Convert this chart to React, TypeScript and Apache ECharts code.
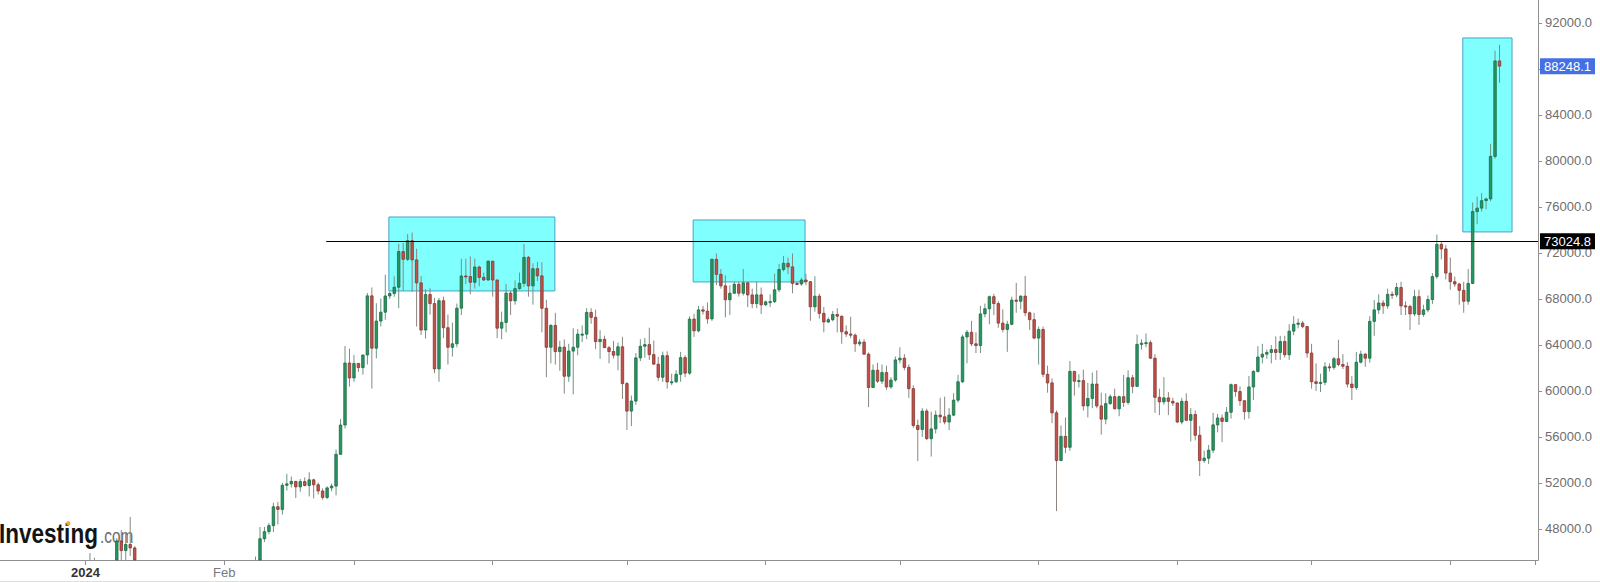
import React, { useEffect, useRef } from 'react';
import * as echarts from 'echarts';

// Daily BTC/USD candles, each row: [open, high, low, close]
const jan2024 = [
  [42280, 44180, 42180, 44180], [44180, 45900, 44150, 44950], [44950, 45500, 40800, 42850], [42850, 44750, 42620, 44180],
  [44180, 44350, 42600, 44150], [44150, 44230, 43450, 43970], [43970, 44500, 43640, 43940], [43940, 47200, 43200, 46960],
  [46960, 47900, 45250, 46120], [46120, 47700, 44300, 46650], [46650, 49040, 45650, 46350], [46350, 46500, 41500, 42800],
  [42800, 43250, 42440, 42850], [42850, 43080, 41720, 41730], [41730, 43350, 41730, 42500], [42500, 43550, 42050, 43150],
  [43150, 43200, 42200, 42750], [42750, 42920, 40700, 41300], [41300, 42100, 40300, 41650], [41650, 41880, 41450, 41680],
  [41680, 41830, 41480, 41600], [41600, 41660, 39450, 39500], [39500, 40130, 38500, 39900], [39900, 40530, 39500, 40100],
  [40100, 40300, 39550, 39950], [39950, 42200, 39800, 41800], [41800, 42200, 41400, 42100], [42100, 42800, 41600, 42000],
  [42000, 43300, 41800, 43300], [43300, 43850, 42700, 42950], [42950, 43700, 42300, 42580],
];
const feb2024 = [
  [42580, 43280, 41880, 43080], [43080, 43480, 42590, 43200], [43200, 43380, 42900, 43000], [43000, 43120, 42280, 42580],
  [42580, 43500, 42500, 42700], [42700, 43400, 42600, 43100], [43100, 44400, 42800, 44340], [44340, 45600, 44330, 45290],
  [45290, 48170, 45250, 47150], [47150, 48180, 46870, 47770], [47770, 48530, 47540, 48290], [48290, 50280, 47730, 49930],
  [49930, 50360, 48390, 49700], [49700, 52000, 49250, 51800], [51800, 52800, 51340, 51920], [51920, 52560, 51600, 52140],
  [52140, 52170, 50690, 51660], [51660, 52350, 51230, 52120], [52120, 52480, 51700, 51780], [51780, 52930, 50830, 52270],
  [52270, 52370, 50650, 51840], [51840, 52040, 50990, 51300], [51300, 51530, 50540, 50740], [50740, 51700, 50600, 51570],
  [51570, 51950, 51280, 51730], [51730, 54910, 50920, 54490], [54490, 57570, 54450, 57040], [57040, 63910, 56740, 62430],
  [62430, 63680, 60380, 61130],
];
const mar2024 = [
  [61130, 63130, 60800, 62390], [62390, 62440, 61660, 62030], [62030, 63140, 61420, 63130], [63130, 68520, 62300, 68270],
  [68270, 69000, 60200, 63720], [63720, 67630, 62830, 66080], [66080, 68030, 65600, 66850], [66850, 70110, 66190, 68260],
  [68260, 68640, 68000, 68480], [68480, 69970, 68190, 69020], [69020, 72800, 67200, 72120], [72120, 72880, 68700, 71450],
  [71450, 73650, 71300, 73070], [73070, 73780, 68620, 71400], [71400, 72370, 65600, 69400], [69400, 70000, 64870, 65300],
  [65300, 68860, 64560, 68390], [68390, 68940, 66630, 67600], [67600, 68100, 61540, 61920], [61920, 68100, 60800, 67850],
  [67850, 68200, 64600, 65500], [65500, 66650, 62300, 63800], [63800, 65950, 63000, 64100], [64100, 67600, 63800, 67200],
  [67200, 71500, 66600, 70000], [70000, 71500, 69300, 69950], [69950, 71700, 68400, 69450], [69450, 71500, 68900, 70780],
  [70780, 70900, 69100, 69880], [69880, 70300, 69560, 69650], [69650, 71350, 69580, 71290],
];
const apr2024 = [
  [71290, 71300, 68200, 69650], [69650, 69700, 64600, 65460], [65460, 66900, 64500, 65960], [65960, 69290, 65100, 68510],
  [68510, 68710, 66600, 67840], [67840, 69620, 67500, 68900], [68900, 70300, 68800, 69360], [69360, 72780, 69050, 71620],
  [71620, 71740, 68200, 69140], [69140, 71100, 67500, 70630], [70630, 71230, 69560, 70010], [70010, 71200, 65100, 67190],
  [67190, 67930, 61200, 63800], [63800, 65800, 62400, 65700], [65700, 66800, 62300, 63420], [63420, 64350, 61750, 63810],
  [63810, 64480, 59770, 61280], [61280, 64100, 60800, 63470], [63470, 65450, 59700, 63800], [63800, 65380, 63100, 64940],
  [64940, 65700, 64250, 64940], [64940, 67200, 64500, 66830], [66830, 67200, 65850, 66400], [66400, 67070, 63650, 64290],
  [64290, 65280, 62800, 64490], [64490, 64800, 63800, 63760], [63760, 63920, 62400, 63430], [63430, 64350, 62830, 63110],
  [63110, 64200, 61800, 63840], [63840, 64700, 59300, 60640],
];
const may2024 = [
  [60640, 60780, 56600, 58250], [58250, 59600, 56950, 59120], [59120, 63300, 58800, 62880], [62880, 64500, 62600, 63890],
  [63890, 64600, 62900, 64030], [64030, 65500, 62700, 63160], [63160, 64390, 62300, 62330], [62330, 62970, 60880, 61190],
  [61190, 63420, 60780, 63070], [63070, 63450, 60200, 60790], [60790, 61500, 60500, 60800], [60800, 61800, 60700, 61450],
  [61450, 63400, 60800, 62900], [62900, 63100, 61200, 61550], [61550, 66500, 61400, 66250], [66250, 66700, 64700, 65230],
  [65230, 67400, 65100, 67050], [67050, 67400, 66650, 66940], [66940, 67700, 65850, 66270], [66270, 71500, 66100, 71450],
  [71450, 71950, 69200, 70140], [70140, 70600, 68900, 69140], [69140, 70050, 66400, 67930], [67930, 69200, 66600, 68500],
  [68500, 69500, 68450, 69280], [69280, 69500, 68200, 68500], [68500, 70600, 68300, 69400], [69400, 69500, 67300, 68350],
  [68350, 68900, 67200, 67600], [67600, 69500, 67200, 68360], [68360, 69000, 66700, 67490],
];
const jun2024 = [
  [67490, 67850, 67400, 67750], [67750, 68400, 67300, 67770], [67770, 70200, 67650, 68800], [68800, 71050, 68600, 70560],
  [70560, 71750, 70400, 71100], [71100, 71600, 70150, 70790], [70790, 71950, 68500, 69350], [69350, 69500, 69200, 69300],
  [69300, 69850, 69150, 69650], [69650, 70200, 69200, 69500], [69500, 69550, 66100, 67320], [67320, 69980, 66900, 68240],
  [68240, 68450, 66300, 66750], [66750, 67300, 65100, 66000], [66000, 66400, 65900, 66200], [66200, 66950, 66050, 66650],
  [66650, 67200, 65100, 66500], [66500, 66550, 64100, 65150], [65150, 65700, 64700, 64950], [64950, 66450, 64600, 64850],
  [64850, 65000, 63400, 64100], [64100, 64500, 63900, 64250], [64250, 64500, 63150, 63200], [63200, 63350, 58600, 60300],
  [60300, 62300, 60250, 61800], [61800, 62450, 60700, 60850], [60850, 62300, 60600, 61600], [61600, 62200, 60100, 60350],
  [60350, 61200, 60200, 60950], [60950, 63000, 60800, 62700],
];
const jul2024 = [
  [62700, 63800, 62400, 62850], [62850, 63200, 61800, 62050], [62050, 62300, 59400, 60200], [60200, 60500, 56800, 57000],
  [57000, 57500, 53900, 56650], [56650, 58500, 56000, 58250], [58250, 58450, 55750, 55850], [55850, 58200, 54300, 56700],
  [56700, 58300, 56300, 57900], [57900, 59400, 57200, 57750], [57750, 59500, 57100, 57300], [57300, 58500, 56600, 57900],
  [57900, 59800, 57800, 59200], [59200, 61400, 59000, 60800], [60800, 64900, 60700, 64700], [64700, 65300, 62400, 65100],
  [65100, 66100, 63900, 64100], [64100, 65100, 63300, 63950], [63950, 67400, 63300, 66700], [66700, 67600, 66400, 67150],
  [67150, 68300, 65800, 68200], [68200, 68450, 66600, 67600], [67600, 67800, 65500, 65900], [65900, 67100, 65100, 65350],
  [65350, 66100, 63400, 65800], [65800, 68200, 65700, 67900], [67900, 69400, 66800, 67800], [67800, 68300, 67100, 68250],
  [68250, 70000, 66500, 66800], [66800, 66900, 65300, 66200], [66200, 66800, 64500, 64600],
];
const aug2024 = [
  [64600, 65600, 62300, 65350], [65350, 65600, 61200, 61450], [61450, 62200, 59850, 60700], [60700, 61100, 57200, 58100],
  [58100, 58300, 49550, 53950], [53950, 57000, 53900, 56050], [56050, 57700, 54600, 55100], [55100, 62600, 54800, 61700],
  [61700, 61750, 59600, 60850], [60850, 61450, 60300, 60900], [60900, 61850, 58300, 58700], [58700, 60700, 57700, 59350],
  [59350, 61600, 58500, 60600], [60600, 61800, 58500, 58700], [58700, 59850, 56200, 57550], [57550, 59800, 57100, 58900],
  [58900, 59700, 58800, 59500], [59500, 60200, 58400, 58450], [58450, 59600, 57800, 59500], [59500, 61400, 58600, 59000],
  [59000, 61800, 58800, 61150], [61150, 61400, 59800, 60400], [60400, 64900, 60350, 64050], [64050, 64500, 63600, 64150],
  [64150, 65000, 63800, 64200], [64200, 64400, 62800, 62850], [62850, 63200, 58100, 59450], [59450, 60200, 57900, 59050],
  [59050, 61200, 58800, 59400], [59400, 59900, 57900, 59100], [59100, 59400, 58700, 58950],
];
const sep2024 = [
  [58950, 59000, 57200, 57300], [57300, 59400, 57100, 59100], [59100, 59800, 57400, 57450], [57450, 58500, 55600, 57950],
  [57950, 58300, 55700, 56150], [56150, 56950, 52600, 53950], [53950, 54800, 53750, 54150], [54150, 55300, 53650, 54850],
  [54850, 58100, 54600, 57050], [57050, 58000, 56400, 57650], [57650, 57950, 55550, 57350], [57350, 58600, 57300, 58150],
  [58150, 60650, 57600, 60550], [60550, 60600, 59500, 59950], [59950, 60400, 58700, 59150], [59150, 59200, 57500, 58200],
  [58200, 61300, 57600, 60350], [60350, 61800, 59200, 61700], [61700, 63900, 61600, 62950], [62950, 64100, 62400, 63200],
  [63200, 63600, 62800, 63350], [63350, 64000, 62400, 63600], [63600, 64750, 62700, 63350], [63350, 64800, 62700, 64300],
  [64300, 64800, 62900, 63150], [63150, 65800, 62700, 65200], [65200, 66500, 64850, 65800], [65800, 66300, 65450, 65900],
  [65900, 66100, 65450, 65600], [65600, 65650, 62900, 63300],
];
const oct2024 = [
  [63300, 64100, 60200, 60800], [60800, 62400, 60000, 60650], [60650, 61500, 59900, 60750], [60750, 62500, 60500, 62100],
  [62100, 62400, 61700, 62050], [62050, 62950, 61850, 62800], [62800, 64450, 62150, 62300], [62300, 63200, 61900, 62150],
  [62150, 62500, 60300, 60600], [60600, 61300, 59200, 60300], [60300, 63400, 60100, 62500], [62500, 63500, 62400, 63200],
  [63200, 63300, 62100, 62850], [62850, 66500, 62450, 66050], [66050, 67900, 64800, 67050], [67050, 68400, 66700, 67650],
  [67650, 67900, 66700, 67400], [67400, 68900, 67150, 68400], [68400, 68650, 68000, 68350], [68350, 69400, 68150, 69000],
  [69000, 69500, 66600, 67400], [67400, 67800, 66600, 67350], [67350, 67500, 65300, 66700], [66700, 68800, 66500, 68200],
  [68200, 68800, 65750, 66650], [66650, 67500, 66450, 67050], [67050, 68300, 66850, 67950], [67950, 70250, 67550, 69950],
  [69950, 73600, 69750, 72750], [72750, 72950, 71450, 72350], [72350, 72700, 69700, 70250],
];
const nov2024 = [
  [70250, 71600, 68800, 69500], [69500, 69950, 69050, 69300], [69300, 69400, 67500, 68750], [68750, 69500, 66800, 67800],
  [67800, 70600, 67500, 69350], [69350, 76400, 69300, 75600], [75600, 76900, 74500, 75900], [75900, 77200, 75600, 76550],
  [76550, 76800, 75800, 76700], [76700, 81500, 76500, 80400], [80400, 89600, 80200, 88700], [88700, 90100, 86800, 88248.1],
];
const monthsOf2024 = [jan2024, feb2024, mar2024, apr2024, may2024, jun2024, jul2024, aug2024, sep2024, oct2024, nov2024];

// Axis: x in days since 2024-01-01
const xMinDay = -19.1;
const xMaxDay = 324.6;
const monthTickDays = [0, 31, 60, 91, 121, 152, 182, 213, 244, 274, 305, 324];
const xLabelDays = [0, 31];
const xLabelTexts = ['2024', 'Feb'];
const yMin = 45300;
const yMax = 94000;
const yTickValues = [48000, 52000, 56000, 60000, 64000, 68000, 72000, 76000, 80000, 84000, 88000, 92000];
const yLabelValues = [48000, 52000, 56000, 60000, 64000, 68000, 72000, 76000, 80000, 84000, 92000];

// Annotations
const boxStartDays = [67.8, 135.8, 307.8];
const boxEndDays = [104.9, 160.8, 318.8];
const boxLows = [68700, 69480, 73830];
const boxHighs = [75130, 74870, 90700];
const resistanceLevel = 73024.8;
const resistanceStartDay = 53.8;

const DAY_MS = 86400000;
const candleRows: number[][] = [];
monthsOf2024.forEach((month, mi) => {
  month.forEach((q, i) => {
    const day = Math.round((Date.UTC(2024, mi, i + 1) - Date.UTC(2024, 0, 1)) / DAY_MS);
    candleRows.push([day, q[0], q[3], q[2], q[1]]); // day, open, close, low, high
  });
});
const lastRow = candleRows[candleRows.length - 1];
const lastDay = lastRow[0];
const lastClose = lastRow[2];

const FONT = '"Liberation Sans", Arial, Helvetica, sans-serif';

export default function App() {
  const ref = useRef<HTMLDivElement>(null);
  useEffect(() => {
    if (!ref.current) return;
    const chart = echarts.init(ref.current, null, { renderer: 'svg' });
    const option: any = {
      animation: false,
      backgroundColor: '#ffffff',
      textStyle: { fontFamily: FONT },
      grid: { left: 0, right: 62, top: 0, bottom: 22, containLabel: false },
      xAxis: {
        type: 'value',
        min: xMinDay,
        max: xMaxDay,
        splitLine: { show: false },
        axisLine: { show: true, onZero: false, lineStyle: { color: '#8f8f8f', width: 1 } },
        axisTick: { show: true, customValues: monthTickDays, length: 5, lineStyle: { color: '#8f8f8f' } },
        axisLabel: {
          show: true,
          customValues: xLabelDays,
          margin: 6,
          fontSize: 13,
          color: '#7a7a7a',
          formatter: (v: number) => {
            const idx = xLabelDays.indexOf(Math.round(v));
            if (idx < 0) return '';
            return idx === 0 ? '{b|' + xLabelTexts[idx] + '}' : xLabelTexts[idx];
          },
          rich: { b: { fontWeight: 'bold', color: '#333333', fontSize: 13, fontFamily: FONT } },
        },
      },
      yAxis: {
        type: 'value',
        position: 'right',
        min: yMin,
        max: yMax,
        scale: true,
        splitLine: { show: false },
        axisLine: { show: true, onZero: false, lineStyle: { color: '#8f8f8f', width: 1 } },
        axisTick: { show: true, customValues: yTickValues, length: 4, lineStyle: { color: '#8f8f8f' } },
        axisLabel: {
          show: true,
          customValues: yLabelValues,
          margin: 7,
          fontSize: 13,
          color: '#6e6e6e',
          formatter: (v: number) => v.toFixed(1),
        },
      },
      graphic: [
        {
          type: 'text', x: -1, y: 533, scaleX: 0.805, z: 0,
          style: { text: 'Investing', font: 'bold 28px ' + FONT, fill: '#141414', align: 'left', verticalAlign: 'middle' },
        },
        {
          type: 'text', x: 100, y: 536, scaleX: 0.73, z: 0,
          style: { text: '.com', font: '21px ' + FONT, fill: '#6a6a6a', align: 'left', verticalAlign: 'middle' },
        },
        { type: 'circle', z: 0, shape: { cx: 68.3, cy: 523.3, r: 2.2 }, style: { fill: '#f3a532' } },
        { type: 'line', z: 0, shape: { x1: 0, y1: 581.5, x2: 1600, y2: 581.5 }, style: { stroke: '#dedede', lineWidth: 1 } },
      ],
      series: [
        {
          type: 'line',
          data: [],
          silent: true,
          markArea: {
            silent: true,
            itemStyle: { color: '#80ffff', opacity: 1, borderColor: '#4aa2c6', borderWidth: 1 },
            data: boxStartDays.map((s, i) => [
              { coord: [s, boxHighs[i]] },
              { coord: [boxEndDays[i], boxLows[i]] },
            ]),
          },
          markLine: {
            silent: true,
            symbol: ['none', 'none'],
            data: [
              [
                {
                  coord: [resistanceStartDay, resistanceLevel],
                  lineStyle: { color: '#000000', width: 1, type: 'solid' },
                  label: {
                    show: true, position: 'end', distance: 2,
                    formatter: resistanceLevel.toFixed(1),
                    color: '#ffffff', backgroundColor: '#000000', padding: [2, 4, 1, 4], fontSize: 13, fontFamily: FONT,
                  },
                },
                { coord: [xMaxDay, resistanceLevel] },
              ],
              [
                {
                  coord: [lastDay, lastClose],
                  lineStyle: { color: 'rgba(255,255,255,0)', width: 1, type: 'solid' },
                  label: {
                    show: true, position: 'end', distance: 2,
                    formatter: lastClose.toFixed(1),
                    color: '#ffffff', backgroundColor: '#4470e6', padding: [2, 4, 1, 4], fontSize: 13, fontFamily: FONT,
                  },
                },
                { coord: [xMaxDay, lastClose] },
              ],
            ],
          },
        },
        {
          type: 'custom',
          z: 3,
          data: candleRows,
          encode: { x: 0, y: [1, 2, 3, 4] },
          renderItem: (params: any, api: any) => {
            const day = api.value(0);
            const o = api.value(1);
            const c = api.value(2);
            const l = api.value(3);
            const h = api.value(4);
            const cs = params.coordSys;
            const top = cs.y;
            const bottom = cs.y + cs.height;
            const clampY = (y: number) => Math.max(top, Math.min(bottom, y));
            const x = api.coord([day, o])[0];
            const yO = api.coord([day, o])[1];
            const yC = api.coord([day, c])[1];
            const yL = api.coord([day, l])[1];
            const yH = api.coord([day, h])[1];
            const up = c >= o;
            const bw = api.size([1, 0])[0] * 0.56;
            const children: any[] = [];
            const wt = clampY(yH);
            const wb = clampY(yL);
            if (wb > wt) {
              children.push({
                type: 'line',
                shape: { x1: x, y1: wt, x2: x, y2: wb },
                style: { stroke: up ? '#6e9482' : '#8c8580', lineWidth: 1 },
              });
            }
            const bTopRaw = Math.min(yO, yC);
            const bBotRaw = Math.max(yO, yC);
            if (bBotRaw >= top && bTopRaw <= bottom) {
              const bt = clampY(bTopRaw);
              const bb = clampY(bBotRaw);
              children.push({
                type: 'rect',
                shape: { x: x - bw / 2, y: bt, width: bw, height: Math.max(bb - bt, 1) },
                style: {
                  fill: up ? '#279660' : '#c1524b',
                  stroke: up ? '#1c6b45' : '#87362f',
                  lineWidth: 0.8,
                },
              });
            }
            return { type: 'group', children };
          },
        },
      ],
    };
    chart.setOption(option);
    return () => chart.dispose();
  }, []);
  return <div ref={ref} style={{ position: 'absolute', left: 0, top: 0, width: 1600, height: 582 }} />;
}
